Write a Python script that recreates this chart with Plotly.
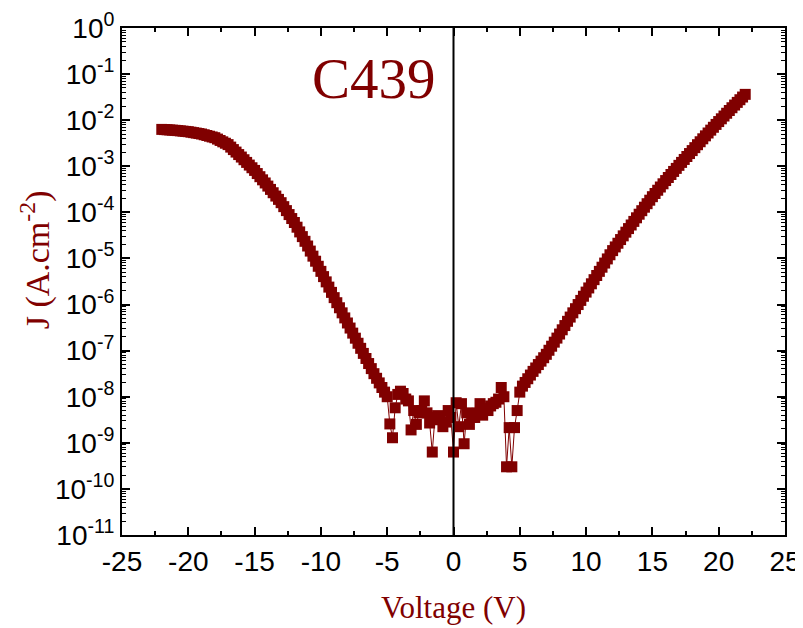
import plotly.graph_objects as go

# ---------------- data ----------------
voltage_left = [
    -22.0, -21.8, -21.6, -21.4, -21.2, -21.0, -20.8, -20.6, -20.4, -20.2,
    -20.0, -19.8, -19.6, -19.4, -19.2, -19.0, -18.8, -18.6, -18.4, -18.2,
    -18.0, -17.8, -17.6, -17.4, -17.2, -17.0, -16.8, -16.6, -16.4, -16.2,
    -16.0, -15.8, -15.6, -15.4, -15.2, -15.0, -14.8, -14.6, -14.4, -14.2,
    -14.0, -13.8, -13.6, -13.4, -13.2, -13.0, -12.8, -12.6, -12.4, -12.2,
    -12.0, -11.8, -11.6, -11.4, -11.2, -11.0, -10.8, -10.6, -10.4, -10.2,
    -10.0, -9.8, -9.6, -9.4, -9.2, -9.0, -8.8, -8.6, -8.4, -8.2,
    -8.0, -7.8, -7.6, -7.4, -7.2, -7.0, -6.8, -6.6, -6.4, -6.2,
    -6.0, -5.8, -5.6, -5.4, -5.2,
]
log_j_left = [
    -2.200, -2.204, -2.208, -2.212, -2.216, -2.220, -2.226, -2.232, -2.238, -2.244,
    -2.250, -2.260, -2.270, -2.280, -2.290, -2.300, -2.316, -2.332, -2.348, -2.364,
    -2.380, -2.410, -2.440, -2.470, -2.500, -2.530, -2.584, -2.638, -2.692, -2.746,
    -2.800, -2.858, -2.916, -2.974, -3.032, -3.090, -3.158, -3.226, -3.294, -3.362,
    -3.430, -3.502, -3.574, -3.646, -3.718, -3.790, -3.876, -3.962, -4.048, -4.134,
    -4.220, -4.322, -4.424, -4.526, -4.628, -4.730, -4.840, -4.950, -5.060, -5.170,
    -5.280, -5.394, -5.508, -5.622, -5.736, -5.850, -5.960, -6.070, -6.180, -6.290,
    -6.400, -6.510, -6.620, -6.730, -6.840, -6.950, -7.060, -7.170, -7.280, -7.390,
    -7.500, -7.600, -7.700, -7.800, -7.900,
]

voltage_mid = [
    -5.0, -4.8, -4.6, -4.4, -4.2, -4.0, -3.8, -3.6, -3.4, -3.2,
    -3.0, -2.8, -2.6, -2.4, -2.2, -2.0, -1.8, -1.6, -1.4, -1.2,
    -1.0, -0.8, -0.6, -0.4, -0.2, 0.0, 0.2, 0.4, 0.6, 0.8,
    1.0, 1.2, 1.4, 1.6, 1.8, 2.0, 2.2, 2.4, 2.6, 2.8,
    3.0, 3.2, 3.4, 3.6, 3.8, 4.0, 4.2, 4.4, 4.6, 4.8,
    5.0,
]
log_j_mid = [
    -8.00, -8.59, -8.89, -8.24, -7.95, -7.88, -7.93, -8.05, -8.09, -8.72,
    -8.30, -8.60, -8.35, -8.30, -8.09, -8.35, -8.57, -9.20, -8.45, -8.41,
    -8.50, -8.65, -8.55, -8.30, -8.45, -9.20, -8.13, -8.65, -8.15, -9.02,
    -8.35, -8.60, -8.45, -8.45, -8.35, -8.15, -8.40, -8.25, -8.30, -8.20,
    -8.15, -8.12, -8.05, -7.80, -8.00, -9.52, -8.67, -9.52, -8.67, -8.30,
    -7.90,
]

voltage_right = [
    5.2, 5.4, 5.6, 5.8, 6.0, 6.2, 6.4, 6.6, 6.8, 7.0,
    7.2, 7.4, 7.6, 7.8, 8.0, 8.2, 8.4, 8.6, 8.8, 9.0,
    9.2, 9.4, 9.6, 9.8, 10.0, 10.2, 10.4, 10.6, 10.8, 11.0,
    11.2, 11.4, 11.6, 11.8, 12.0, 12.2, 12.4, 12.6, 12.8, 13.0,
    13.2, 13.4, 13.6, 13.8, 14.0, 14.2, 14.4, 14.6, 14.8, 15.0,
    15.2, 15.4, 15.6, 15.8, 16.0, 16.2, 16.4, 16.6, 16.8, 17.0,
    17.2, 17.4, 17.6, 17.8, 18.0, 18.2, 18.4, 18.6, 18.8, 19.0,
    19.2, 19.4, 19.6, 19.8, 20.0, 20.2, 20.4, 20.6, 20.8, 21.0,
    21.2, 21.4, 21.6, 21.8, 22.0,
]
log_j_right = [
    -7.770, -7.690, -7.610, -7.530, -7.450, -7.376, -7.302, -7.228, -7.154, -7.080,
    -6.992, -6.904, -6.816, -6.728, -6.640, -6.548, -6.456, -6.364, -6.272, -6.180,
    -6.090, -6.000, -5.910, -5.820, -5.730, -5.640, -5.550, -5.460, -5.370, -5.280,
    -5.190, -5.100, -5.010, -4.920, -4.830, -4.750, -4.670, -4.590, -4.510, -4.430,
    -4.352, -4.274, -4.196, -4.118, -4.040, -3.964, -3.888, -3.812, -3.736, -3.660,
    -3.590, -3.520, -3.450, -3.380, -3.310, -3.244, -3.178, -3.112, -3.046, -2.980,
    -2.916, -2.852, -2.788, -2.724, -2.660, -2.596, -2.532, -2.468, -2.404, -2.340,
    -2.278, -2.216, -2.154, -2.092, -2.030, -1.970, -1.910, -1.850, -1.790, -1.730,
    -1.672, -1.614, -1.556, -1.498, -1.440,
]

x_tick_values = [-25, -20, -15, -10, -5, 0, 5, 10, 15, 20, 25]
x_minor_values = [-22.5, -17.5, -12.5, -7.5, -2.5, 2.5, 7.5, 12.5, 17.5, 22.5]
y_exponents = [0, -1, -2, -3, -4, -5, -6, -7, -8, -9, -10, -11]
sample_label = "C439"
x_title = "Voltage (V)"
y_title = "J (A.cm<sup>-2</sup>)"

# ---------------- figure ----------------
voltage = voltage_left + voltage_mid + voltage_right
current_density = [10 ** v for v in (log_j_left + log_j_mid + log_j_right)]

MAROON = "#800000"
SERIF = "Liberation Serif, Times New Roman, serif"

fig = go.Figure()
fig.add_trace(go.Scatter(
    x=voltage, y=current_density,
    mode="lines+markers",
    line=dict(color=MAROON, width=1),
    marker=dict(symbol="square", size=11, color=MAROON, line=dict(width=0)),
    showlegend=False,
))

y_tickvals = [10 ** e for e in y_exponents]
y_ticktext = [f"10<sup>{e}</sup>" for e in y_exponents]
y_minor = [m * 10 ** e for e in y_exponents[1:] for m in range(2, 10)]

tick_font = dict(family="Liberation Sans, Arial, sans-serif", size=28, color="black")

fig.update_layout(
    width=795, height=620,
    margin=dict(l=114, r=18, t=20, b=93),
    paper_bgcolor="white", plot_bgcolor="white",
    xaxis=dict(
        range=[-25, 25], tickmode="array", tickvals=x_tick_values,
        ticktext=[str(v) for v in x_tick_values],
        ticks="inside", ticklen=8, tickwidth=1.5, tickcolor="black",
        minor=dict(tickmode="array", tickvals=x_minor_values,
                   ticks="inside", ticklen=4, tickwidth=1.5, tickcolor="black"),
        showline=True, linecolor="black", linewidth=2, mirror="ticks",
        showgrid=False, zeroline=False, automargin=False,
        ticklabeloverflow="allow",
        tickfont=tick_font,
        title=dict(text=x_title, font=dict(family=SERIF, size=31, color=MAROON), standoff=21),
    ),
    yaxis=dict(
        type="log", range=[-11, 0], tickmode="array",
        tickvals=y_tickvals, ticktext=y_ticktext,
        ticks="inside", ticklen=8, tickwidth=1.5, tickcolor="black",
        minor=dict(tickmode="array", tickvals=y_minor,
                   ticks="inside", ticklen=4, tickwidth=1, tickcolor="black"),
        showline=True, linecolor="black", linewidth=2, mirror="ticks",
        showgrid=False, zeroline=False, automargin=False,
        ticklabeloverflow="allow",
        tickfont=tick_font,
    ),
    shapes=[dict(type="line", xref="x", yref="paper", x0=0, x1=0, y0=0, y1=1,
                 line=dict(color="black", width=2))],
    annotations=[
        dict(text=sample_label, xref="paper", yref="paper", x=0.38, y=0.90,
             xanchor="center", yanchor="middle", showarrow=False,
             font=dict(family=SERIF, size=57, color=MAROON)),
        dict(text=y_title, xref="paper", yref="paper", x=-0.131, y=0.542,
             xanchor="center", yanchor="middle", textangle=-90, showarrow=False,
             font=dict(family=SERIF, size=34, color=MAROON)),
    ],
)

fig.write_html("out.html")
